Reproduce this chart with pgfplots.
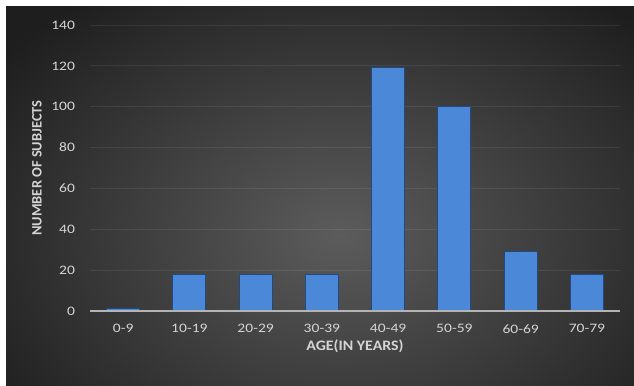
\documentclass[border=0pt]{standalone}
\usepackage{pgfplots}
\pgfplotsset{compat=1.18}
\usepackage{fontspec}
\setmainfont{Carlito}
\definecolor{barblue}{RGB}{76,136,216}
\definecolor{baredge}{RGB}{36,72,128}
\definecolor{ticktext}{RGB}{212,212,212}
\definecolor{bgin}{RGB}{92,92,92}
\definecolor{bgout}{RGB}{30,30,30}
\begin{document}
\begin{tikzpicture}[x=1bp,y=1bp]
  % canvas with a thin white margin on top and left
  \fill[white] (0,0) rectangle (634,385);
  \begin{scope}
    \clip (6,0) rectangle (634,378);
    \shade[inner color=bgin, outer color=bgout] (340-420,150-300) rectangle (340+420,150+300);
  \end{scope}
  \begin{axis}[
    at={(90bp,74bp)}, anchor=south west,
    scale only axis, width=530bp, height=286bp,
    ymin=0, ymax=140, ytick={0,20,...,140},
    xmin=-0.5, xmax=7.5,
    xtick={0,...,7},
    xticklabels={0-9,10-19,20-29,30-39,40-49,50-59,60-69,70-79},
    major tick length=0pt,
    axis line style={draw=none},
    axis x line*=bottom, axis y line*=left,
    ymajorgrids, grid style={white, opacity=0.08, line width=0.8pt},
    tick label style={font=\fontsize{13}{15}\selectfont, text=ticktext, xscale=1.2},
    /pgf/number format/assume math mode=true,
    xticklabel style={yshift=-10bp},
    yticklabel style={xshift=-9bp},
    xlabel={\textbf{AGE(IN YEARS)}},
    ylabel={\textbf{NUMBER OF SUBJECTS}},
    label style={font=\fontsize{14.5}{17}\selectfont, text=ticktext},
    xlabel style={yshift=0bp, xscale=1.1},
    ylabel style={yshift=2bp},
    clip=false,
  ]
    \addplot[ybar, bar width=33bp, fill=barblue, draw=baredge, line width=1pt]
      coordinates {(0,1) (1,18) (2,18) (3,18) (4,119) (5,100) (6,29) (7,18)};
    \draw[ticktext!85!black, line width=1.4pt] (axis cs:-0.5,0) -- (axis cs:7.5,0);
  \end{axis}
\end{tikzpicture}
\end{document}
